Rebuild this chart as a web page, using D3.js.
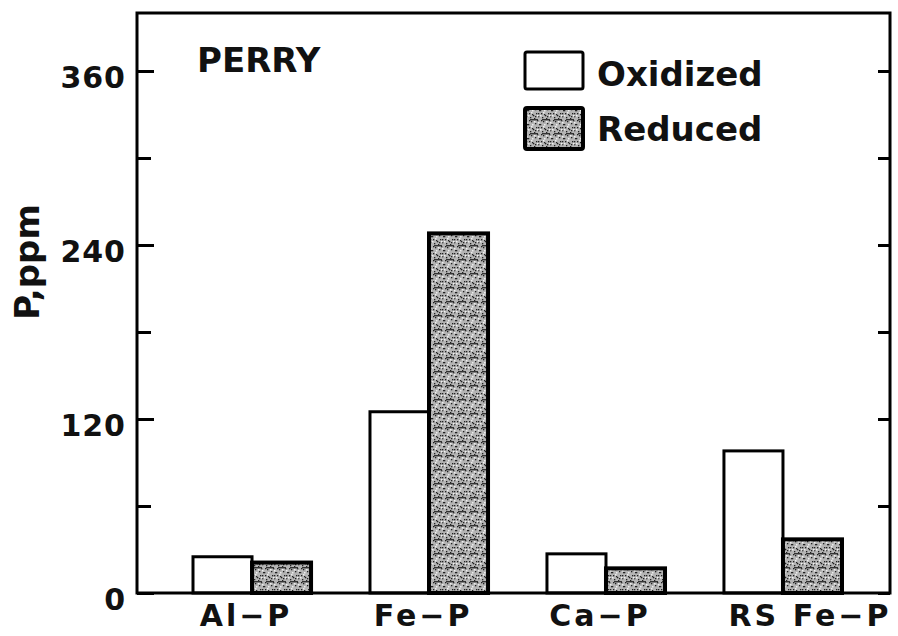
<!DOCTYPE html>
<html><head><meta charset="utf-8">
<script src="https://cdn.jsdelivr.net/npm/d3@7"></script>
<style>body{margin:0;background:#fff}svg text{font-family:"DejaVu Sans",sans-serif;font-weight:bold;fill:#111}</style>
</head><body>
<svg id="c" width="898" height="636"></svg>
<script>
const categories = ["Al\u2212P","Fe\u2212P","Ca\u2212P","RS Fe\u2212P"];
const series = ["Oxidized","Reduced"];
const oxidized = [25, 125, 27, 98];
const reduced = [21, 248, 17, 37];
const yTicks = [0,120,240,360];
const yMinor = [60,180,300];

const svg = d3.select("#c");
const L=137, R=890, T=13, B=593;
const y = d3.scaleLinear().domain([0,400]).range([B,T]);
const x = d3.scaleBand().domain(categories).range([163.5,871.5]).paddingInner(0.333).paddingOuter(0.1667);
const xs = d3.scaleBand().domain(series).range([0,x.bandwidth()]);

const defs = svg.append("defs");
const pat = defs.append("pattern").attr("id","stip").attr("patternUnits","userSpaceOnUse").attr("width",12).attr("height",14);
pat.append("rect").attr("width",12).attr("height",14).attr("fill","#b4b4b4");
const dots=[[1,1],[4,2],[8,1],[10,4],[2,5],[6,6],[9,8],[3,9],[7,11],[0,12],[11,12],[5,3],[1,8],[7,4],[10,1]];
dots.forEach(d=>pat.append("rect").attr("x",d[0]).attr("y",d[1]).attr("width",1.3).attr("height",1.3).attr("fill","#222"));
pat.append("rect").attr("x",2).attr("y",7).attr("width",8).attr("height",1.4).attr("fill","#333");
const white = [[3,0],[9,3],[0,3],[6,9],[10,10],[4,12]];
white.forEach(d=>pat.append("rect").attr("x",d[0]).attr("y",d[1]).attr("width",1.5).attr("height",1.5).attr("fill","#eee"));

// bars
const g = svg.append("g");
categories.forEach((c,i)=>{
  const vals=[oxidized[i],reduced[i]];
  series.forEach((s,j)=>{
    g.append("rect")
      .attr("x",x(c)+xs(s)).attr("y",y(vals[j]))
      .attr("width",xs.bandwidth()).attr("height",B-y(vals[j]))
      .attr("fill",j===0?"#fff":"url(#stip)")
      .attr("stroke","#000").attr("stroke-width",j===0?3:4);
  });
});

// frame
svg.append("rect").attr("x",L).attr("y",T).attr("width",R-L).attr("height",B-T)
  .attr("fill","none").attr("stroke","#000").attr("stroke-width",3);

// left axis
const yl = svg.append("g").attr("transform",`translate(${L},0)`)
  .call(d3.axisLeft(y).tickValues(yTicks).tickSize(-17).tickPadding(11).tickFormat(d3.format("d")));
yl.select(".domain").remove();
yl.selectAll("line").attr("stroke","#000").attr("stroke-width",3);
yl.selectAll("text").attr("font-size",30).attr("letter-spacing",1).attr("dy","0.56em").attr("fill","#111").attr("font-family","DejaVu Sans");
svg.append("g").attr("transform",`translate(${L},0)`)
  .call(d3.axisLeft(y).tickValues(yMinor).tickSize(-14).tickFormat(""))
  .call(a=>{a.select(".domain").remove();a.selectAll("line").attr("stroke","#000").attr("stroke-width",3);});
// right axis ticks
svg.append("g").attr("transform",`translate(${R},0)`)
  .call(d3.axisRight(y).tickValues(yTicks.concat(yMinor)).tickSize(-12).tickFormat(""))
  .call(a=>{a.select(".domain").remove();a.selectAll("line").attr("stroke","#000").attr("stroke-width",3);});

// x labels
svg.append("g").selectAll("text").data(categories).join("text")
  .attr("x",d=>x(d)+x.bandwidth()/2 + (d.startsWith("RS")?27:-6))
  .attr("y",626).attr("text-anchor","middle")
  .attr("font-size",30).attr("letter-spacing",3).text(d=>d);

// y label
svg.append("text").attr("transform","translate(39,262) rotate(-90)").attr("text-anchor","middle")
  .attr("font-size",34).text("P,ppm");

// title
svg.append("text").attr("x",197).attr("y",72).attr("font-size",34).text("PERRY");

// legend
const lg = svg.append("g");
const ly=[52,108], lt=[86,141];
series.forEach((s,j)=>{
  lg.append("rect").attr("x",525).attr("y",ly[j]).attr("width",58).attr("height",j===0?37:41)
    .attr("fill",j===0?"#fff":"url(#stip)").attr("stroke","#000").attr("stroke-width",j===0?3:4).attr("rx",2);
  lg.append("text").attr("x",597).attr("y",lt[j]).attr("font-size",34).text(s);
});
</script>
</body></html>
